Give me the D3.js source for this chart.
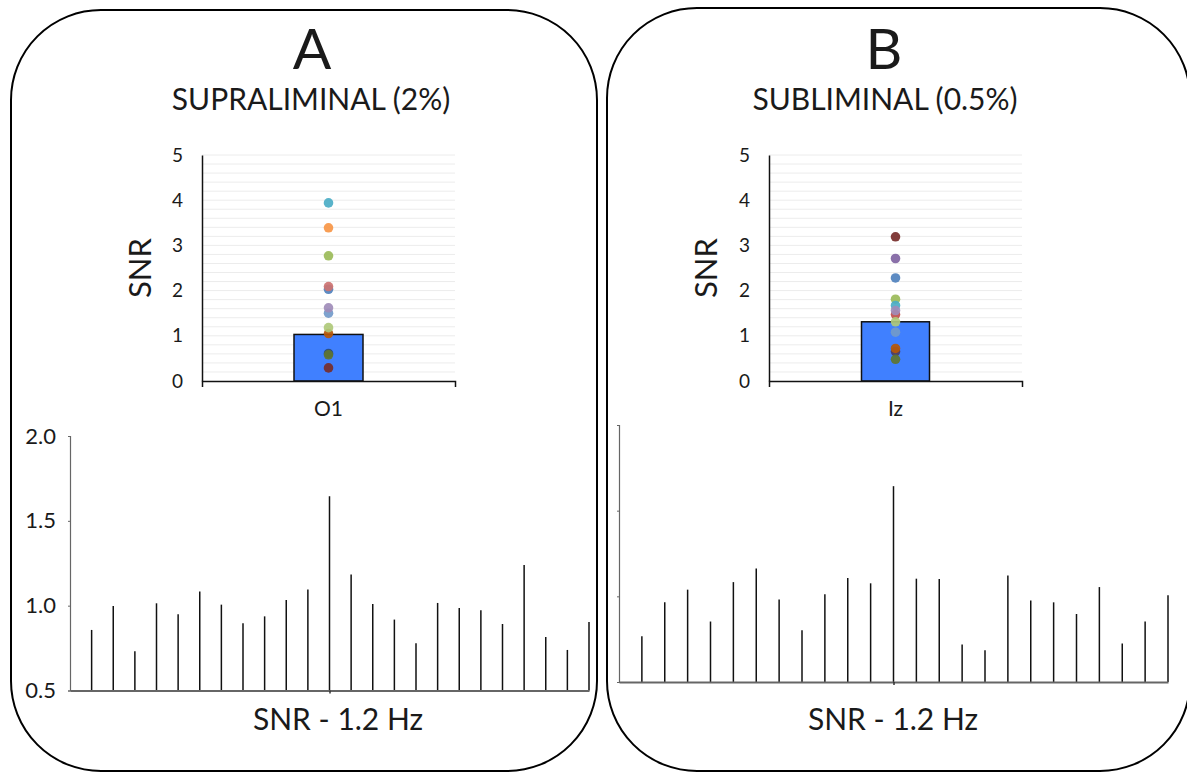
<!DOCTYPE html>
<html>
<head>
<meta charset="utf-8">
<script src="https://cdn.jsdelivr.net/npm/d3@7"></script>
<style>
  html, body { margin: 0; padding: 0; background: #fff; }
  svg { display: block; }
  text { font-family: Lato, "Open Sans", sans-serif; fill: #1a1a1a; }
</style>
</head>
<body>
<svg id="chart" width="1187" height="772"></svg>
<script>
// ---------- DATA ----------
const panelLetters = ["A", "B"];
const panelTitles = ["SUPRALIMINAL (2%)", "SUBLIMINAL (0.5%)"];
const electrodes = ["O1", "Iz"];
const barMeans = [1.03, 1.31];
const snrTicks = [0, 1, 2, 3, 4, 5];
const spectrumTicks = [0.5, 1.0, 1.5, 2.0];
const spectrumTickLabels = ["0.5", "1.0", "1.5", "2.0"];
const spectrumXLabel = "SNR - 1.2 Hz";

// individual subject SNRs (panel A: O1, 2%)
const subjectColorsA = ["#4bacc6", "#f79646", "#9bbb59", "#4f81bd", "#cd7371", "#729aca", "#a08cb8", "#b65708", "#afc97a", "#2c4d75", "#5f7530", "#772c2a"];
const subjectValuesA = [3.94, 3.39, 2.77, 2.03, 2.09, 1.50, 1.62, 1.05, 1.18, 0.61, 0.58, 0.29];
// individual subject SNRs (panel B: Iz, 0.5%)
const subjectColorsB = ["#772c2a", "#8064a2", "#4f81bd", "#9bbb59", "#4bacc6", "#c0504d", "#a08cb8", "#afc97a", "#729aca", "#4d3b62", "#b65708", "#5f7530"];
const subjectValuesB = [3.19, 2.71, 2.28, 1.81, 1.67, 1.47, 1.56, 1.31, 1.08, 0.65, 0.72, 0.48];

// SNR spectra: 24 bins around 1.2 Hz (bin 12 = 1.2 Hz)
const spectrumA = [0.857, 0.998, 0.731, 1.014, 0.949, 1.084, 1.006, 0.896, 0.937, 1.033, 1.096, 1.645,
                   1.184, 1.010, 0.918, 0.778, 1.016, 0.986, 0.973, 0.892, 1.239, 0.816, 0.739, 0.904];
const spectrumB = [0.767, 0.965, 1.039, 0.853, 1.083, 1.163, 0.981, 0.802, 1.012, 1.107, 1.076, 1.643,
                   1.103, 1.101, 0.719, 0.686, 1.122, 0.975, 0.965, 0.897, 1.054, 0.725, 0.853, 1.006];

// ---------- LAYOUT ----------
const svg = d3.select("#chart");

const panels = [
  { box: [11, 10, 597, 771], cx: 312, scat: { x0: 202, x1: 455, y0: 381, y1: 155, bar: [294, 363] },
    spec: { x0: 70, x1: 589, y0: 690.5, y1: 436, labels: true }, xlabelX: 338,
    colors: subjectColorsA, values: subjectValuesA, spectrum: spectrumA, snrX: 140, titleX: 311 },
  { box: [607, 8, 1190, 771], cx: 884, scat: { x0: 769, x1: 1022, y0: 381, y1: 155, bar: [861, 929] },
    spec: { x0: 619, x1: 1168, y0: 682, y1: 425, labels: false }, xlabelX: 893,
    colors: subjectColorsB, values: subjectValuesB, spectrum: spectrumB, snrX: 706, titleX: 885 }
];

panels.forEach((p, i) => {
  const g = svg.append("g");
  // rounded frame
  g.append("rect")
    .attr("x", p.box[0]).attr("y", p.box[1])
    .attr("width", p.box[2] - p.box[0]).attr("height", p.box[3] - p.box[1])
    .attr("rx", 90).attr("ry", 90)
    .attr("fill", "none").attr("stroke", "#000").attr("stroke-width", 2);

  // titles
  g.append("text").attr("x", p.cx).attr("y", 69).attr("text-anchor", "middle")
    .style("font-size", "57px").text(panelLetters[i]);
  g.append("text").attr("x", p.titleX).attr("y", 110).attr("text-anchor", "middle")
    .style("font-size", "30px").text(panelTitles[i]);

  // ---- scatter + bar ----
  const s = p.scat;
  const y = d3.scaleLinear().domain([0, 5]).range([s.y0, s.y1]);
  const xBand = d3.scaleBand().domain([electrodes[i]]).range([s.x0, s.x1]);
  const xc = xBand(electrodes[i]) + xBand.bandwidth() / 2;
  const barW = s.bar[1] - s.bar[0];

  // minor gridlines
  const grid = d3.range(1, 26).map(k => k * 0.2);
  g.append("g").selectAll("line").data(grid).join("line")
    .attr("x1", s.x0).attr("x2", s.x1)
    .attr("y1", d => y(d)).attr("y2", d => y(d))
    .attr("stroke", "#ececec").attr("stroke-width", 1);

  // bar
  g.append("rect")
    .attr("x", xc - barW / 2).attr("width", barW)
    .attr("y", y(barMeans[i])).attr("height", y(0) - y(barMeans[i]))
    .attr("fill", "#4080ff").attr("stroke", "#111").attr("stroke-width", 1.5);

  // dots
  g.append("g").selectAll("circle").data(p.values).join("circle")
    .attr("cx", xc).attr("cy", d => y(d)).attr("r", 4.8)
    .attr("fill", (d, k) => p.colors[k]).attr("fill-opacity", 0.92);

  // y axis
  const ya = g.append("g").attr("transform", `translate(${s.x0},0)`)
    .call(d3.axisLeft(y).tickValues(snrTicks).tickSize(0).tickPadding(19).tickFormat(d3.format("d")));
  ya.select(".domain").attr("stroke", "#111").attr("stroke-width", 1.5);
  ya.selectAll("text").style("font-size", "19px").style("font-family", "Lato, sans-serif").attr("fill", "#222");

  // x axis
  const xa = g.append("g").attr("transform", `translate(0,${s.y0})`)
    .call(d3.axisBottom(xBand).tickSize(0).tickPadding(20).tickSizeOuter(6));
  xa.select(".domain").attr("stroke", "#111").attr("stroke-width", 1.5);
  xa.selectAll("text").style("font-size", "21px").style("font-family", "Lato, sans-serif").attr("fill", "#222");

  // SNR label
  g.append("text")
    .attr("transform", `translate(${p.snrX},${(s.y0 + s.y1) / 2}) rotate(-90)`)
    .attr("text-anchor", "middle").attr("dy", "0.35em")
    .style("font-size", "31px").text("SNR");

  // ---- spectrum ----
  const sp = p.spec;
  const xs = d3.scaleLinear().domain([0, 24]).range([sp.x0, sp.x1]);
  const ys = d3.scaleLinear().domain([0.5, 2.0]).range([sp.y0, sp.y1]);

  g.append("g").selectAll("line").data(p.spectrum).join("line")
    .attr("x1", (d, k) => xs(k + 1)).attr("x2", (d, k) => xs(k + 1))
    .attr("y1", ys(0.5)).attr("y2", d => ys(d))
    .attr("stroke", "#111").attr("stroke-width", 1.5);

  const ysa = g.append("g").attr("transform", `translate(${sp.x0},0)`)
    .call(d3.axisLeft(ys).tickValues(spectrumTicks).tickSize(2).tickPadding(12)
      .tickFormat((d, k) => sp.labels ? spectrumTickLabels[k] : ""));
  ysa.select(".domain").attr("stroke", "#666").attr("stroke-width", 1.2);
  ysa.selectAll(".tick line").attr("stroke", "#666");
  ysa.selectAll("text").style("font-size", "22px").style("font-family", "Lato, sans-serif").attr("fill", "#222");

  const xsa = g.append("g").attr("transform", `translate(0,${sp.y0})`)
    .call(d3.axisBottom(xs).tickValues([12]).tickSize(3).tickSizeOuter(0).tickFormat(""));
  xsa.select(".domain").attr("stroke", "#666").attr("stroke-width", 2);
  xsa.selectAll(".tick line").attr("stroke", "#333").attr("stroke-width", 1.5);

  g.append("text").attr("x", p.xlabelX).attr("y", 730).attr("text-anchor", "middle")
    .style("font-size", "30px").text(spectrumXLabel);
});
</script>
</body>
</html>
